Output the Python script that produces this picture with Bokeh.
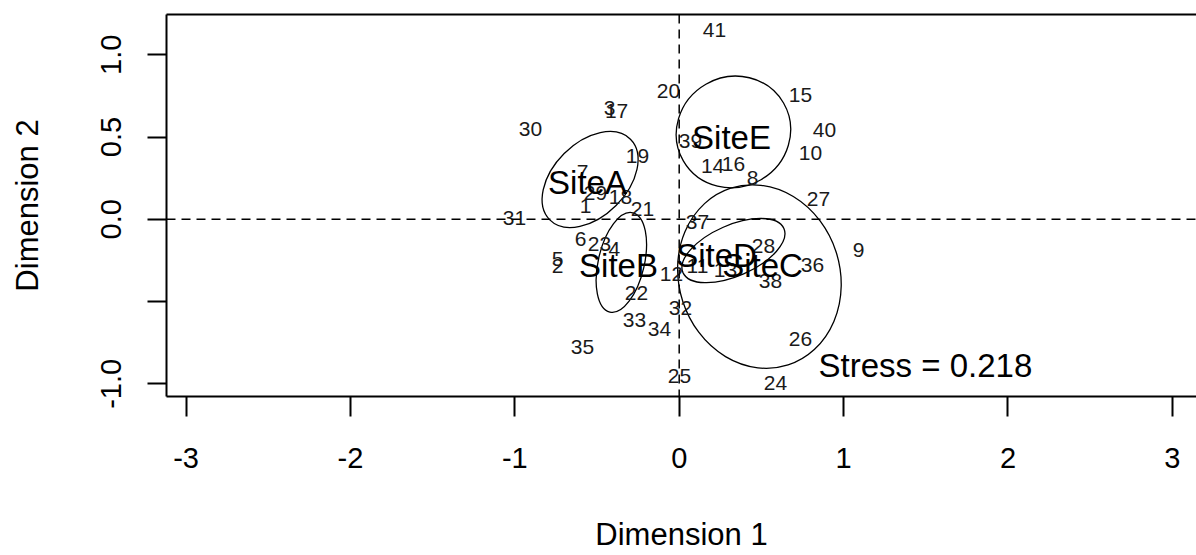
from bokeh.plotting import figure
from bokeh.models import ColumnDataSource, Range1d, FixedTicker, LinearAxis, Span
from bokeh.core.properties import value
from bokeh.embed import file_html
from bokeh.resources import INLINE
import math

# ---- data ----
site_ids = ["41", "20", "15", "30", "3", "17", "40", "39", "10", "19", "14", "16", "8", "7",
            "29", "18", "1", "27", "21", "31", "37", "6", "23", "4", "28", "9", "5", "2",
            "36", "12", "11", "13", "38", "22", "32", "33", "34", "26", "35", "25", "24"]
dim1 = [0.215, -0.065, 0.738, -0.905, -0.424, -0.381, 0.884, 0.069, 0.799, -0.254, 0.203, 0.330,
        0.446, -0.588, -0.509, -0.357, -0.570, 0.847, -0.223, -1.002, 0.111, -0.600, -0.485,
        -0.394, 0.513, 1.091, -0.740, -0.740, 0.811, -0.047, 0.111, 0.282, 0.555, -0.260,
        0.008, -0.272, -0.120, 0.738, -0.588, 0.002, 0.586]
dim2 = [1.148, 0.783, 0.753, 0.552, 0.674, 0.661, 0.540, 0.479, 0.406, 0.382, 0.327, 0.339,
        0.254, 0.285, 0.157, 0.133, 0.084, 0.126, 0.060, 0.005, -0.019, -0.117, -0.153,
        -0.178, -0.165, -0.184, -0.244, -0.281, -0.275, -0.330, -0.281, -0.311, -0.372,
        -0.445, -0.542, -0.615, -0.664, -0.725, -0.779, -0.950, -0.992]

groups = ["SiteA", "SiteB", "SiteC", "SiteD", "SiteE"]
group_label_x = [-0.558, -0.369, 0.507, 0.227, 0.318]
group_label_y = [0.223, -0.281, -0.281, -0.220, 0.498]
ell_cx = [-0.542, -0.352, 0.488, 0.330, 0.330]
ell_cy = [0.242, -0.262, -0.348, -0.190, 0.531]
ell_semi_major = [0.347, 0.310, 0.565, 0.335, 0.352]
ell_semi_minor = [0.223, 0.140, 0.490, 0.155, 0.335]
ell_angle_deg = [45, 77, -72, 23.6, 30]

stress = 0.218
x_ticks = [-3, -2, -1, 0, 1, 2, 3]
x_tick_labels = {-3: "-3", -2: "-2", -1: "-1", 0: "0", 1: "1", 2: "2", 3: "3"}
y_ticks = [-1.0, -0.5, 0.0, 0.5, 1.0]
y_tick_labels = {-1.0: "-1.0", -0.5: "", 0.0: "0.0", 0.5: "0.5", 1.0: "1.0"}
x_title = "Dimension 1"
y_title = "Dimension 2"

FONT = "Liberation Sans"

p = figure(width=1196, height=555, output_backend="svg", toolbar_location=None,
           x_range=Range1d(-3.119, 3.147), y_range=Range1d(-1.077, 1.245),
           min_border_left=166, min_border_right=0, min_border_top=14, min_border_bottom=159,
           x_axis_label=x_title, y_axis_label=y_title)
p.outline_line_color = None
p.grid.visible = False
p.background_fill_color = "white"
p.border_fill_color = "white"

for ax in (p.xaxis[0], p.yaxis[0]):
    ax.axis_line_width = 2
    ax.axis_line_color = "black"
    ax.major_tick_line_width = 2
    ax.major_tick_line_color = "black"
    ax.minor_tick_line_color = None
    ax.major_tick_in = 0
    ax.major_label_text_font = FONT
    ax.major_label_text_font_size = "29px"
    ax.major_label_text_color = "black"
    ax.axis_label_text_font = FONT
    ax.axis_label_text_font_size = "31px"
    ax.axis_label_text_font_style = "normal"
    ax.axis_label_text_color = "black"

p.xaxis[0].ticker = FixedTicker(ticks=x_ticks)
p.xaxis[0].major_label_overrides = x_tick_labels
p.xaxis[0].major_tick_out = 20
p.xaxis[0].major_label_standoff = 31
p.xaxis[0].axis_label_standoff = 46

p.yaxis[0].ticker = FixedTicker(ticks=y_ticks)
p.yaxis[0].major_label_overrides = y_tick_labels
p.yaxis[0].major_label_orientation = "vertical"
p.yaxis[0].major_tick_out = 19
p.yaxis[0].major_label_standoff = 26
p.yaxis[0].axis_label_standoff = 54

top = LinearAxis(ticker=FixedTicker(ticks=[]), axis_line_width=2, axis_line_color="black",
                 major_tick_out=0, major_tick_in=0, minor_tick_out=0, minor_tick_in=0,
                 major_label_text_font_size="0px")
p.add_layout(top, "above")

p.add_layout(Span(location=0, dimension="width", line_dash="9 6", line_width=1.5, line_color="black"))
p.add_layout(Span(location=0, dimension="height", line_dash="9 6", line_width=1.5, line_color="black"))

esrc = ColumnDataSource(dict(x=ell_cx, y=ell_cy,
                             w=[2 * a for a in ell_semi_major],
                             h=[2 * b for b in ell_semi_minor],
                             ang=[math.radians(d) for d in ell_angle_deg]))
p.ellipse(x="x", y="y", width="w", height="h", angle="ang", source=esrc,
          fill_color=None, line_color="black", line_width=1.3)

src = ColumnDataSource(dict(x=dim1, y=dim2, t=site_ids))
p.text(x="x", y="y", text="t", source=src, text_font=value(FONT), text_font_size="21px",
       text_align="center", text_baseline="middle", text_color="#1a1a1a")

gsrc = ColumnDataSource(dict(x=group_label_x, y=group_label_y, t=groups))
p.text(x="x", y="y", text="t", source=gsrc, text_font=value(FONT), text_font_size="33px",
       text_align="center", text_baseline="middle", text_color="black")

ssrc = ColumnDataSource(dict(x=[1.498], y=[-0.889], t=["Stress = %.3f" % stress]))
p.text(x="x", y="y", text="t", source=ssrc, text_font=value(FONT), text_font_size="33px",
       text_align="center", text_baseline="middle", text_color="black")

open("out.html", "w").write(file_html(p, INLINE))
